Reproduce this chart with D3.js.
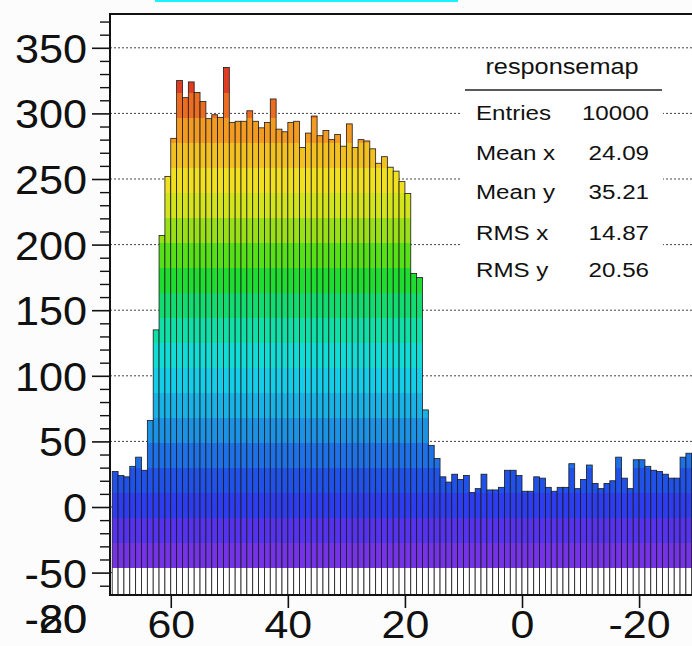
<!DOCTYPE html>
<html>
<head>
<meta charset="utf-8">
<script src="https://cdn.jsdelivr.net/npm/d3@7"></script>
<style>
  body { margin: 0; background: #fcfcfc; }
  text { font-family: "Liberation Sans", Arial, Helvetica, sans-serif; fill: #111; }
</style>
</head>
<body>
<div class="canvas"></div>
<script>
// bins along x, running from 70 down to -30, one unit each
const binLow = d3.range(70, -30, -1);

// column heights, left to right
const counts = [
    27, 24, 23, 31, 38, 28, 66, 135,
    207, 252, 281, 325, 312, 324, 316, 309, 296, 299, 297, 335, 293, 294, 294, 302,
    294, 289, 293, 311, 288, 286, 293, 294, 274, 285, 298, 283, 287, 280, 284, 275,
    292, 274, 280, 279, 273, 262, 267, 259, 256, 248, 239,
    178, 175,
    74, 47, 37, 23, 19, 25, 21, 24, 11, 14, 25, 13, 13, 15, 28, 28, 24, 12, 12, 23,
    22, 15, 12, 15, 15, 33, 14, 21, 32, 18, 14, 18, 20, 38, 22, 14, 36, 36, 31, 28,
    27, 25, 22, 22, 38, 41, 40
];

const yMajor = [-50, 0, 50, 100, 150, 200, 250, 300, 350];
const xMajor = [60, 40, 20, 0, -20];

const statTitle = 'responsemap';
const statLabels = ['Entries', 'Mean x', 'Mean y', 'RMS x', 'RMS y'];
const statValues = ['10000', '24.09', '35.21', '14.87', '20.56'];

// colour levels of the lego plot, bottom to top
const levelColors = [
    '#7433e6', '#5532ee', '#2e3cf0', '#2052ea', '#1e70e6', '#1c92e4', '#18b2e6',
    '#14cde8', '#12dcd6', '#10e0a8', '#12dc70', '#1edc30', '#56e018', '#9ae018',
    '#d4e41c', '#f0e020', '#f2c020', '#f29a22', '#ec6c22', '#e03c22', '#d82020'
];
const levelBase = -46.5;
const levelStep = 19.06;

const W = 692, H = 646;
const plot = { left: 110, top: 14, right: 700, bottom: 595 };

const svg = d3.select('.canvas')
    .append('svg')
    .attr('width', W)
    .attr('height', H);

const x = d3.scaleLinear()
    .domain([70.38, -30])
    .range([plot.left, plot.left + 100.38 * 5.854]);

const y = d3.scaleLinear()
    .domain([-67.07, 375.76])
    .range([plot.bottom, plot.top]);

// plain hyphen for negatives, like the original
const fmt = d => String(d);

// plot background
svg.append('rect')
    .attr('x', plot.left).attr('y', plot.top)
    .attr('width', plot.right - plot.left)
    .attr('height', plot.bottom - plot.top)
    .attr('fill', '#ffffff');

// cyan edge of the title box, cut off at the top
svg.append('rect')
    .attr('x', 155).attr('y', 0)
    .attr('width', 303).attr('height', 2)
    .attr('fill', '#19f2ff');

const defs = svg.append('defs');

defs.append('clipPath').attr('id', 'clip')
    .append('rect')
    .attr('x', plot.left).attr('y', plot.top)
    .attr('width', plot.right - plot.left)
    .attr('height', plot.bottom - plot.top);

// banded fill, fixed to the y axis
const grad = defs.append('linearGradient')
    .attr('id', 'levels')
    .attr('gradientUnits', 'userSpaceOnUse')
    .attr('x1', 0).attr('x2', 0)
    .attr('y1', plot.bottom).attr('y2', plot.top);

const span = plot.bottom - plot.top;
const frac = v => (plot.bottom - y(v)) / span;

grad.append('stop').attr('offset', 0).attr('stop-color', '#ffffff');
grad.append('stop').attr('offset', frac(levelBase)).attr('stop-color', '#ffffff');
levelColors.forEach((c, k) => {
    const lo = frac(levelBase + k * levelStep);
    const hi = Math.min(1, frac(levelBase + (k + 1) * levelStep));
    grad.append('stop').attr('offset', lo).attr('stop-color', c);
    grad.append('stop').attr('offset', hi).attr('stop-color', c);
});

// dotted grid
svg.append('g')
    .selectAll('line')
    .data(yMajor)
    .enter()
    .append('line')
    .attr('x1', plot.left).attr('x2', plot.right)
    .attr('y1', d => y(d)).attr('y2', d => y(d))
    .attr('stroke', '#444')
    .attr('stroke-width', 1)
    .attr('stroke-dasharray', '2,2');

// columns
const data = binLow.map((b, i) => ({ lo: b, hi: b - 1, n: counts[i] }));

svg.append('g')
    .attr('clip-path', 'url(#clip)')
    .selectAll('rect')
    .data(data)
    .enter()
    .append('rect')
    .attr('x', d => x(d.lo))
    .attr('width', d => x(d.hi) - x(d.lo))
    .attr('y', d => y(d.n))
    .attr('height', d => y(-67.07) - y(d.n))
    .attr('fill', 'url(#levels)')
    .attr('stroke', '#1a1a1a')
    .attr('stroke-width', 0.8);

// stats box
const box = svg.append('g');
box.append('rect')
    .attr('x', 462).attr('y', 51)
    .attr('width', 201).attr('height', 240)
    .attr('fill', '#ffffff');
box.append('text')
    .attr('transform', 'translate(562,74) scale(1.15,1)')
    .attr('text-anchor', 'middle')
    .attr('font-size', 22)
    .text(statTitle);
box.append('line')
    .attr('x1', 465).attr('x2', 662)
    .attr('y1', 90).attr('y2', 90)
    .attr('stroke', '#222')
    .attr('stroke-width', 1.6);

const rowY = [120, 160, 199, 240, 277];
box.selectAll('.lab')
    .data(statLabels)
    .enter()
    .append('text')
    .attr('class', 'lab')
    .attr('transform', (d, i) => `translate(476,${rowY[i]}) scale(1.15,1)`)
    .attr('font-size', 21)
    .text(d => d);
box.selectAll('.val')
    .data(statValues)
    .enter()
    .append('text')
    .attr('class', 'val')
    .attr('transform', (d, i) => `translate(649,${rowY[i]}) scale(1.15,1)`)
    .attr('text-anchor', 'end')
    .attr('font-size', 21)
    .text(d => d);

// y axis: minor then major ticks
const yMinorAxis = d3.axisLeft(y)
    .tickValues(d3.range(-60, 380, 10).filter(v => v % 50 !== 0))
    .tickSize(10)
    .tickFormat('');
svg.append('g')
    .attr('transform', `translate(${plot.left},0)`)
    .call(yMinorAxis)
    .call(g => g.select('.domain').remove())
    .call(g => g.selectAll('line').attr('stroke', '#111').attr('stroke-width', 1.4));

const yAxisGroup = svg.append('g')
    .attr('transform', `translate(${plot.left},0)`)
    .call(d3.axisLeft(y).tickValues(yMajor).tickSize(18).tickFormat(fmt));
yAxisGroup.select('.domain').remove();
yAxisGroup.selectAll('line').attr('stroke', '#111').attr('stroke-width', 1.6);
yAxisGroup.selectAll('text')
    .attr('x', -21.3)
    .attr('dy', '0.36em')
    .attr('font-size', 40)
    .attr('transform', 'scale(1.08,1)')
    .style('fill', '#111');

// x axis
const xAxisGroup = svg.append('g')
    .attr('transform', `translate(0,${plot.bottom})`)
    .call(d3.axisBottom(x).tickValues(xMajor).tickSize(13).tickFormat(fmt));
xAxisGroup.select('.domain').remove();
xAxisGroup.selectAll('line').attr('stroke', '#111').attr('stroke-width', 1.6);
xAxisGroup.selectAll('text')
    .attr('y', 43)
    .attr('dy', 0)
    .attr('font-size', 39)
    .attr('transform', 'scale(1.1,1)')
    .style('fill', '#111');

// overlapping labels at the bottom left corner
['-20', '80'].forEach(t => {
    svg.append('text')
        .attr('transform', 'translate(87,633) scale(1.08,1)')
        .attr('text-anchor', 'end')
        .attr('font-size', 40)
        .text(t);
});

// frame
svg.append('rect')
    .attr('x', plot.left).attr('y', plot.top)
    .attr('width', plot.right - plot.left)
    .attr('height', plot.bottom - plot.top)
    .attr('fill', 'none')
    .attr('stroke', '#111')
    .attr('stroke-width', 2);
</script>
</body>
</html>
